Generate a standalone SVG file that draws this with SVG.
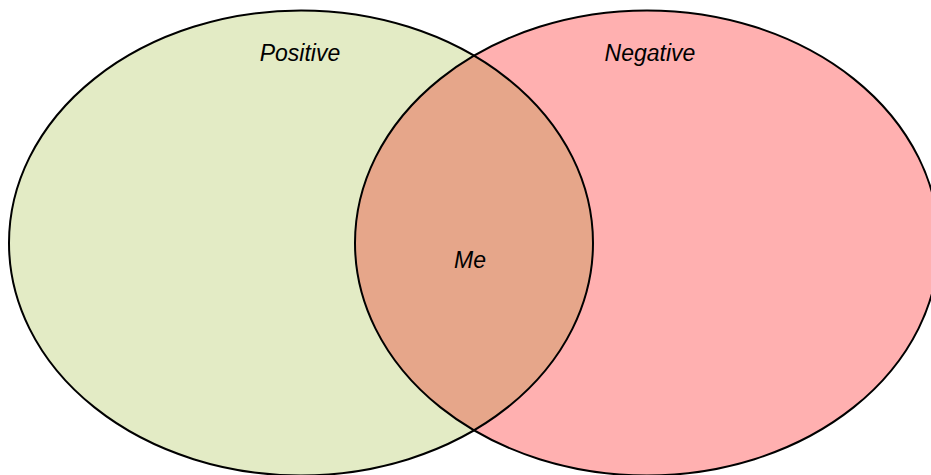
<svg xmlns="http://www.w3.org/2000/svg" width="931" height="475" viewBox="0 0 931 475">
<style>
.lbl{font-family:"Liberation Sans",Arial,sans-serif;font-style:italic;font-size:23px;fill:#000;text-anchor:middle}
.edge{fill:none;stroke:#000;stroke-width:2}
</style>
<defs>
<clipPath id="clipL"><ellipse cx="301" cy="243" rx="292" ry="232.5"/></clipPath>
</defs>
<rect width="931" height="475" fill="#fff"/>
<g id="positive">
<ellipse cx="301" cy="243" rx="292" ry="232.5" fill="#e3ebc5"/>
</g>
<g id="negative">
<ellipse cx="647" cy="243" rx="292" ry="232.5" fill="#ffb0b0"/>
</g>
<g id="me">
<ellipse cx="647" cy="243" rx="292" ry="232.5" fill="#e6a68a" clip-path="url(#clipL)"/>
</g>
<g id="outlines">
<ellipse class="edge" cx="301" cy="243" rx="292" ry="232.5"/>
<ellipse class="edge" cx="647" cy="243" rx="292" ry="232.5"/>
</g>
<text class="lbl" x="300" y="61">Positive</text>
<text class="lbl" x="650" y="61">Negative</text>
<text class="lbl" x="470" y="268">Me</text>
</svg>
